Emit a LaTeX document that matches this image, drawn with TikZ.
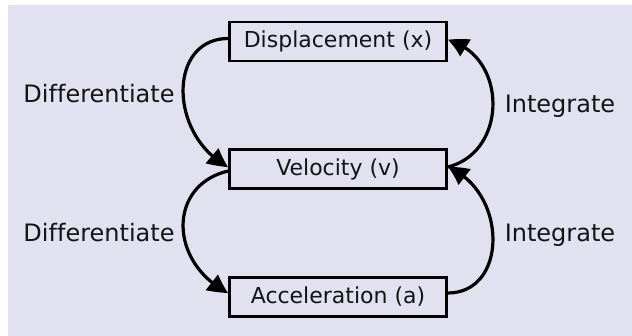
\documentclass[tikz,border=0pt]{standalone}
\usepackage{fontspec}
\setmainfont{DejaVu Sans}[Ligatures=NoCommon]
\usetikzlibrary{arrows.meta,bending}
\definecolor{bgcol}{RGB}{225,225,239}
\definecolor{txtcol}{RGB}{20,20,20}
\begin{document}
\begin{tikzpicture}[x=1pt,y=-1pt,
  qbox/.style={draw=black,line width=2.6pt,minimum width=217pt,minimum height=39pt,inner sep=0pt,
    font=\fontsize{22}{26}\selectfont,text=txtcol},
  qlabel/.style={anchor=base,font=\fontsize{24}{28}\selectfont,text=txtcol,inner sep=0pt},
  qarrow/.style={line width=3.2pt,-{Triangle[length=20pt,width=19pt,bend]}}]
\useasboundingbox (0,0) rectangle (632,336);
\fill[white] (0,0) rectangle (632,336);
\fill[bgcol] (8,5) rectangle (632,336);
\node[qbox] (D) at (338,41.5) {Displacement (x)};
\node[qbox] (V) at (338,169) {Velocity (v)};
\node[qbox] (A) at (338,297) {Acceleration (a)};
\node[qlabel] (d1) at (99,103) {Differentiate};
\node[qlabel] (d2) at (99,242) {Differentiate};
\node[qlabel] (i1) at (560,113) {Integrate};
\node[qlabel] (i2) at (560,242) {Integrate};
\draw[qarrow] ([yshift=3pt]D.west) .. controls (168,38.5) and (168,135) .. ([yshift=2pt]V.west);
\draw[qarrow] ([yshift=-2pt]V.west) .. controls (168,185) and (168,262) .. ([yshift=4pt]A.west);
\draw[qarrow] ([yshift=2pt]V.east) .. controls (508,152) and (508,56) .. ([yshift=1.5pt]D.east);
\draw[qarrow] ([yshift=4pt]A.east) .. controls (508,293) and (508,192) .. ([yshift=2pt]V.east);
\end{tikzpicture}
\end{document}
